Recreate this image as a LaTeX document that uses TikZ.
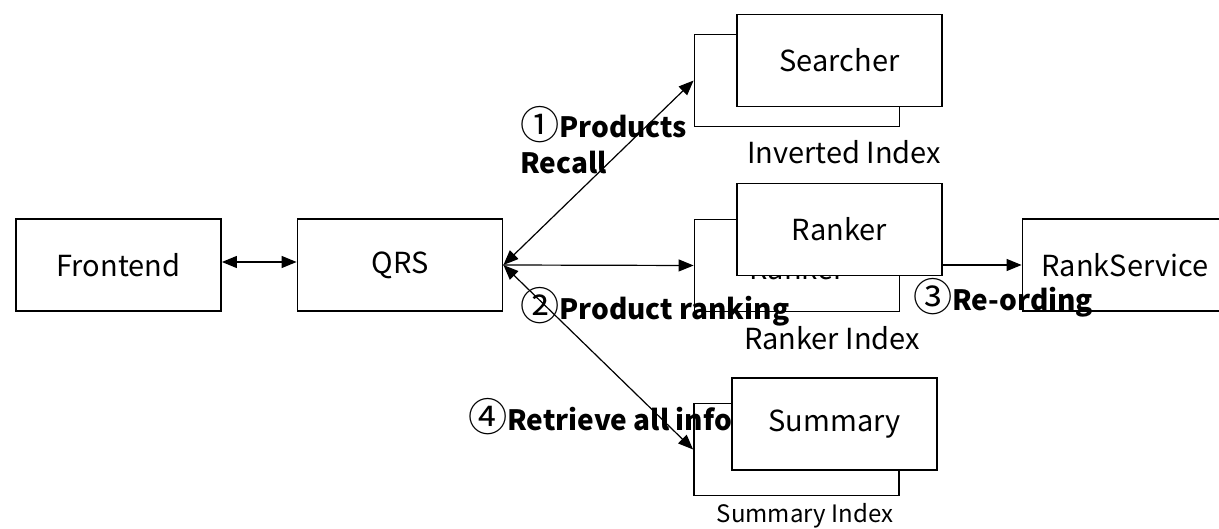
\documentclass[tikz,border=0pt]{standalone}
\usepackage{fontspec}
\setmainfont{Noto Sans CJK SC}
\usetikzlibrary{arrows.meta}
% enlarged, light circled step number
\newcommand\stepno[1]{\raisebox{-1.5pt}{\scalebox{1.4}{\mdseries #1}}}
\tikzset{
  box/.style={draw=black, line width=1.8pt, fill=white, minimum width=205pt, minimum height=92pt, inner sep=0pt,
              font=\fontsize{29}{34}\selectfont},
  arr/.style={line width=1.2pt, -{Triangle[length=15pt,width=12pt]}},
  darr/.style={line width=1.2pt, {Triangle[length=15pt,width=12pt]}-{Triangle[length=15pt,width=12pt]}},
  step label/.style={anchor=west, inner sep=0pt, align=left, font=\bfseries\fontsize{28}{36}\selectfont},
  index label/.style={inner sep=0pt, font=\fontsize{29}{34}\selectfont},
}
\begin{document}
\begin{tikzpicture}[x=1pt, y=-1pt]
  \useasboundingbox (0,0) rectangle (1219,529);
  \clip (0,0) rectangle (1219,529);

  % main chain
  \node[box] (fe)  at (118.5,265) {Frontend};
  \node[box] (qrs) at (400,265) {QRS};
  \node[box] (rs)  at (1125,265) {RankService};

  % searcher group
  \node[box] (sback)  at (797,80.5) {};
  \node[box] (sfront) at (839.5,60.5) {Searcher};
  \node[index label] (sidx) at (844,152) {Inverted Index};

  % ranker group
  \node[box] (rback)  at (797,265.5) {};
  \node[index label] (rbtext) at (797,268) {Ranker};
  \node[box] (rfront) at (839.5,229.5) {Ranker};
  \node[index label] (ridx) at (832,338) {Ranker Index};

  % summary group
  \node[box] (mback)  at (796.5,449.5) {};
  \node[box] (mfront) at (834.5,424) {Summary};
  \node[index label, font=\fontsize{24}{28}\selectfont] (midx) at (805,516) {Summary Index};

  % connectors
  \draw[darr] ([yshift=3pt]fe.east) -- ([yshift=3pt]qrs.west);
  \draw[darr] (qrs.east) -- (sback.west);
  \draw[arr]  (qrs.east) -- (rback.west);
  \draw[darr] (qrs.east) -- (mback.west);
  \draw[arr]  (rfront.east |- rs.west) -- (rs.west);

  % step labels
  \node[step label] (l1) at (520,140) {\stepno{①}Products\\Recall};
  \node[step label] (l2) at (520,307) {\stepno{②}Product ranking};
  \node[step label] (l3) at (913,298) {\stepno{③}Re-ording};
  \node[step label] (l4) at (468,417) {\stepno{④}Retrieve all info};
\end{tikzpicture}
\end{document}
